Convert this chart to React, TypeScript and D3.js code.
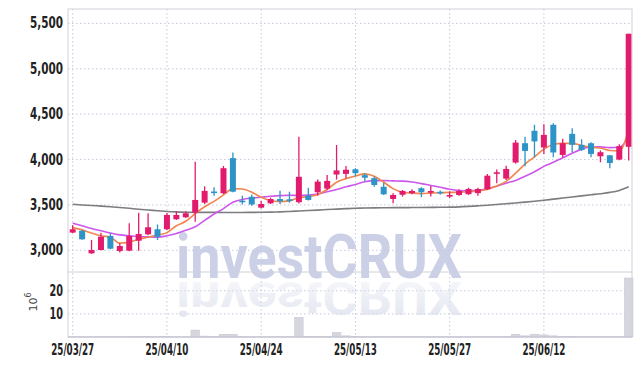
import React, { useLayoutEffect, useRef, useState } from "react";
import * as d3 from "d3";

const dates = [
  "2025-03-27","2025-03-28","2025-03-31","2025-04-01","2025-04-02","2025-04-03","2025-04-04","2025-04-07","2025-04-08","2025-04-09",
  "2025-04-10","2025-04-11","2025-04-14","2025-04-15","2025-04-16","2025-04-17","2025-04-18","2025-04-21","2025-04-22","2025-04-23",
  "2025-04-24","2025-04-25","2025-04-28","2025-04-29","2025-04-30","2025-05-02","2025-05-07","2025-05-08","2025-05-09","2025-05-12",
  "2025-05-13","2025-05-14","2025-05-15","2025-05-16","2025-05-19","2025-05-20","2025-05-21","2025-05-22","2025-05-23","2025-05-26",
  "2025-05-27","2025-05-28","2025-05-29","2025-05-30","2025-06-02","2025-06-04","2025-06-05","2025-06-09","2025-06-10","2025-06-11",
  "2025-06-12","2025-06-13","2025-06-16","2025-06-17","2025-06-18","2025-06-19","2025-06-20","2025-06-23","2025-06-24","2025-06-25",
];

const opens = [
  3195, 3216, 2967, 3003, 3158, 2992, 2996, 3106, 3176, 3232,
  3232, 3342, 3364, 3415, 3525, 3648, 3629, 4016, 3547, 3590,
  3470, 3518, 3565, 3562, 3530, 3605, 3640, 3680, 3835, 3842,
  3893, 3828, 3795, 3700, 3566, 3612, 3630, 3684, 3635, 3645,
  3592, 3610, 3618, 3630, 3673, 3843, 3790, 3967, 4180, 4317,
  4133, 4383, 4051, 4283, 4162, 4180, 4036, 4047, 4000, 4140,
];
const closes = [
  3232, 3121, 3003, 3150, 3018, 3047, 3158, 3180, 3254, 3150,
  3390, 3390, 3408, 3555, 3655, 3640, 3905, 3646, 3533, 3505,
  3510, 3565, 3540, 3548, 3810, 3555, 3757, 3765, 3880, 3888,
  3850, 3800, 3720, 3617, 3610, 3654, 3654, 3640, 3654, 3640,
  3610, 3654, 3676, 3676, 3822, 3860, 3897, 4187, 4095, 4200,
  4272, 4078, 4180, 4162, 4106, 4062, 4081, 3962, 4147, 5386,
];
const highs = [
  3275, 3225, 3114, 3194, 3188, 3080, 3297, 3415, 3408, 3285,
  3410, 3430, 3430, 3975, 3705, 3695, 3930, 4077, 3600, 3615,
  3545, 3580, 3655, 3646, 4250, 3690, 3780, 3830, 4160, 3930,
  3905, 3850, 3812, 3745, 3630, 3665, 3673, 3695, 3710, 3660,
  3650, 3673, 3690, 3690, 3842, 3890, 3933, 4215, 4250, 4383,
  4390, 4400, 4230, 4346, 4224, 4190, 4100, 4050, 4170, 5386,
];
const lows = [
  3190, 3115, 2960, 3000, 3010, 2975, 2990, 2996, 3165, 3114,
  3225, 3335, 3355, 3315, 3510, 3600, 3620, 3640, 3505, 3490,
  3462, 3510, 3510, 3525, 3515, 3548, 3600, 3665, 3780, 3795,
  3815, 3760, 3700, 3610, 3518, 3592, 3618, 3585, 3592, 3612,
  3575, 3600, 3612, 3602, 3665, 3740, 3775, 3955, 3925, 4025,
  4060, 4025, 4025, 4077, 4095, 4025, 3970, 3905, 3993, 3990,
];
// volume in millions
const volumes = [
  0.1, 0.1, 0.1, 0.1, 0.1, 0.1, 0.2, 0.3, 0.2, 0.1,
  0.2, 0.1, 0.1, 3.0, 0.4, 0.2, 1.2, 1.2, 0.2, 0.1,
  0.1, 0.1, 0.1, 0.1, 8.5, 0.3, 0.3, 0.2, 2.0, 0.5,
  0.2, 0.1, 0.1, 0.1, 0.1, 0.1, 0.1, 0.1, 0.1, 0.1,
  0.1, 0.1, 0.1, 0.1, 0.1, 0.1, 0.2, 1.2, 0.5, 1.2,
  0.9, 0.5, 0.2, 0.3, 0.1, 0.1, 0.1, 0.1, 0.1, 25.5,
];
const maShort = [
  3250, 3225, 3190, 3160, 3145, 3080, 3090, 3122, 3143, 3168,
  3195, 3270, 3320, 3405, 3480, 3540, 3610, 3680, 3675, 3640,
  3585, 3548, 3537, 3545, 3582, 3590, 3615, 3670, 3750, 3790,
  3819, 3842, 3815, 3750, 3680, 3640, 3630, 3625, 3630, 3635,
  3638, 3640, 3645, 3655, 3670, 3710, 3760, 3850, 3950, 4030,
  4115, 4165, 4178, 4178, 4155, 4135, 4128, 4100, 4095, 4330,
];
const maMid = [
  3298, 3270, 3240, 3215, 3190, 3170, 3160, 3152, 3148, 3145,
  3160, 3185, 3220, 3260, 3330, 3400, 3460, 3530, 3560, 3575,
  3585, 3595, 3603, 3607, 3603, 3608, 3620, 3645, 3670, 3700,
  3725, 3755, 3768, 3768, 3765, 3762, 3752, 3735, 3715, 3695,
  3672, 3658, 3655, 3660, 3680, 3705, 3740, 3770, 3815, 3865,
  3925, 3970, 4020, 4070, 4115, 4138, 4140, 4132, 4135, 4250,
];
const maLong = [
  3507, 3500, 3494, 3487, 3480, 3472, 3463, 3453, 3444, 3436,
  3428, 3423, 3420, 3418, 3418, 3418, 3417, 3417, 3417, 3418,
  3419, 3421, 3424, 3428, 3433, 3438, 3443, 3449, 3454, 3459,
  3463, 3466, 3468, 3469, 3470, 3470, 3471, 3472, 3473, 3474,
  3476, 3479, 3484, 3490, 3497, 3505, 3513, 3522, 3531, 3541,
  3552, 3564, 3576, 3588, 3600, 3612, 3624, 3638, 3660, 3700,
];

const priceTicks = [3000, 3500, 4000, 4500, 5000, 5500];
const volumeTicks = [10, 20];
const dateTicks = ["2025-03-27", "2025-04-10", "2025-04-24", "2025-05-13", "2025-05-27", "2025-06-12"];

const W = 642, H = 366;
const L = 68, R = 632, TOP = 9, MID = 272, BOT = 337;
const UP = "#e31b6d", DOWN = "#2e94c7";
const GRID = "#c5c8de";
const LABEL_FONT = "'DejaVu Sans Condensed', 'DejaVu Sans', sans-serif";

type FitProps = { x: number; y: number; width: number; anchor: "start" | "middle" | "end"; size: number; children: React.ReactNode };

function FitText({ x, y, width, anchor, size, children }: FitProps) {
  const ref = useRef<SVGTextElement>(null);
  const [sx, setSx] = useState(0.7);
  useLayoutEffect(() => {
    if (ref.current) {
      const w = ref.current.getComputedTextLength();
      if (w > 0) setSx(width / w);
    }
  }, [width]);
  return (
    <g transform={`translate(${x},${y}) scale(${sx},1)`}>
      <text ref={ref} x={0} y={0} textAnchor={anchor} dominantBaseline="central" fontFamily={LABEL_FONT}
        style={{ fontStretch: "condensed" }} fontWeight="bold" fontSize={size} fill="#222">{children}</text>
    </g>
  );
}

export default function App() {
  const x = d3.scalePoint<string>().domain(dates).range([72.7, 628.7]);
  const y = d3.scaleLinear().domain([2761, 5659]).range([MID, TOP]);
  const yv = d3.scaleLinear().domain([0, 28.1]).range([BOT, MID]);
  const fmt = d3.format(",");
  const tf = (s: string) => d3.timeFormat("%y/%m/%d")(d3.timeParse("%Y-%m-%d")(s) as Date);

  const mk = (vals: number[]) =>
    d3.line<number>().x((_, i) => x(dates[i]) as number).y((v) => y(v)).curve(d3.curveMonotoneX)(vals) || "";

  const bodyW = 6;
  const volW = 8.6;

  return (
    <svg width={W} height={H} style={{ position: "absolute", left: 0, top: 0, background: "#fff" }}>
      <defs>
        <linearGradient id="refl" x1="0" y1="0" x2="0" y2="1">
          <stop offset="0%" stopColor="#dfe2ee" stopOpacity={0.95} />
          <stop offset="100%" stopColor="#dfe2ee" stopOpacity={0.15} />
        </linearGradient>
        <clipPath id="plotClip">
          <rect x={L} y={TOP} width={R - L} height={BOT - TOP} />
        </clipPath>
      </defs>
      <rect x={0} y={0} width={W} height={H} fill="#fff" />

      {/* grid */}
      {priceTicks.map((t) => (
        <line key={"gp" + t} x1={L} x2={R} y1={y(t)} y2={y(t)} stroke={GRID} strokeDasharray="1.5,2.5" />
      ))}
      {volumeTicks.map((t) => (
        <line key={"gv" + t} x1={L} x2={R} y1={yv(t)} y2={yv(t)} stroke={GRID} strokeDasharray="1.5,2.5" />
      ))}
      {dateTicks.map((d) => (
        <line key={"gx" + d} x1={x(d)} x2={x(d)} y1={TOP} y2={BOT} stroke={GRID} strokeDasharray="1.5,2.5" />
      ))}

      {/* watermark */}
      <g clipPath="url(#plotClip)">
        <text x={176} y={278} fontFamily="Roboto, 'Liberation Sans', sans-serif" fontWeight="bold" fontSize={62}
          textLength={286} lengthAdjust="spacingAndGlyphs" fill="#c6cce5" opacity={0.9}>investCRUX</text>
        <text x={176} y={278} transform="translate(0,490) scale(1,-0.75)" fontFamily="Roboto, 'Liberation Sans', sans-serif"
          fontWeight="bold" fontSize={62} textLength={286} lengthAdjust="spacingAndGlyphs" fill="url(#refl)">investCRUX</text>
      </g>

      {/* volume bars */}
      {volumes.map((v, i) => (
        <rect key={"v" + i} x={(x(dates[i]) as number) - volW / 2} y={yv(v)} width={volW}
          height={Math.max(0, BOT - yv(v))} fill="#d6d6de" stroke="#c4c5d0" strokeWidth={0.5} />
      ))}

      {/* moving averages */}
      <path d={mk(maLong)} fill="none" stroke="#7d7d80" strokeWidth={1.6} />
      <path d={mk(maMid)} fill="none" stroke="#cd56ec" strokeWidth={1.6} />
      <path d={mk(maShort)} fill="none" stroke="#f0864e" strokeWidth={1.6} />

      {/* candles */}
      <g clipPath="url(#plotClip)">
        {dates.map((d, i) => {
          const cx = x(d) as number;
          const o = opens[i], c = closes[i];
          const col = c >= o ? UP : DOWN;
          const top = y(Math.max(o, c));
          const bh = Math.max(1.6, y(Math.min(o, c)) - top);
          return (
            <g key={"c" + i}>
              <line x1={cx} x2={cx} y1={y(highs[i])} y2={y(lows[i])} stroke={col} strokeWidth={1.3} />
              <rect x={cx - bodyW / 2} y={top} width={bodyW} height={bh} fill={col} />
            </g>
          );
        })}
      </g>

      {/* frame */}
      <rect x={L} y={TOP} width={R - L} height={BOT - TOP} fill="none" stroke="#cfd0da" strokeWidth={1} />
      <line x1={L} x2={R} y1={MID} y2={MID} stroke="#cfd0da" />
      <line x1={L} x2={R} y1={BOT} y2={BOT} stroke="#c2c3cf" />

      {/* y labels */}
      {priceTicks.map((t) => (
        <FitText key={"yl" + t} x={63} y={y(t)} width={33} anchor="end" size={15}>{fmt(t)}</FitText>
      ))}
      {volumeTicks.map((t) => (
        <FitText key={"vl" + t} x={63} y={yv(t)} width={13.5} anchor="end" size={15}>{String(t)}</FitText>
      ))}
      <text transform="translate(33,302) rotate(-90)" textAnchor="middle" dominantBaseline="central"
        fontFamily="'DejaVu Sans', sans-serif" fontSize={11} fill="#444">
        10<tspan fontSize={8} dy={-5}>6</tspan>
      </text>

      {/* x labels */}
      {dateTicks.map((d) => (
        <FitText key={"xl" + d} x={x(d) as number} y={350} width={43} anchor="middle" size={15}>{tf(d)}</FitText>
      ))}
    </svg>
  );
}
